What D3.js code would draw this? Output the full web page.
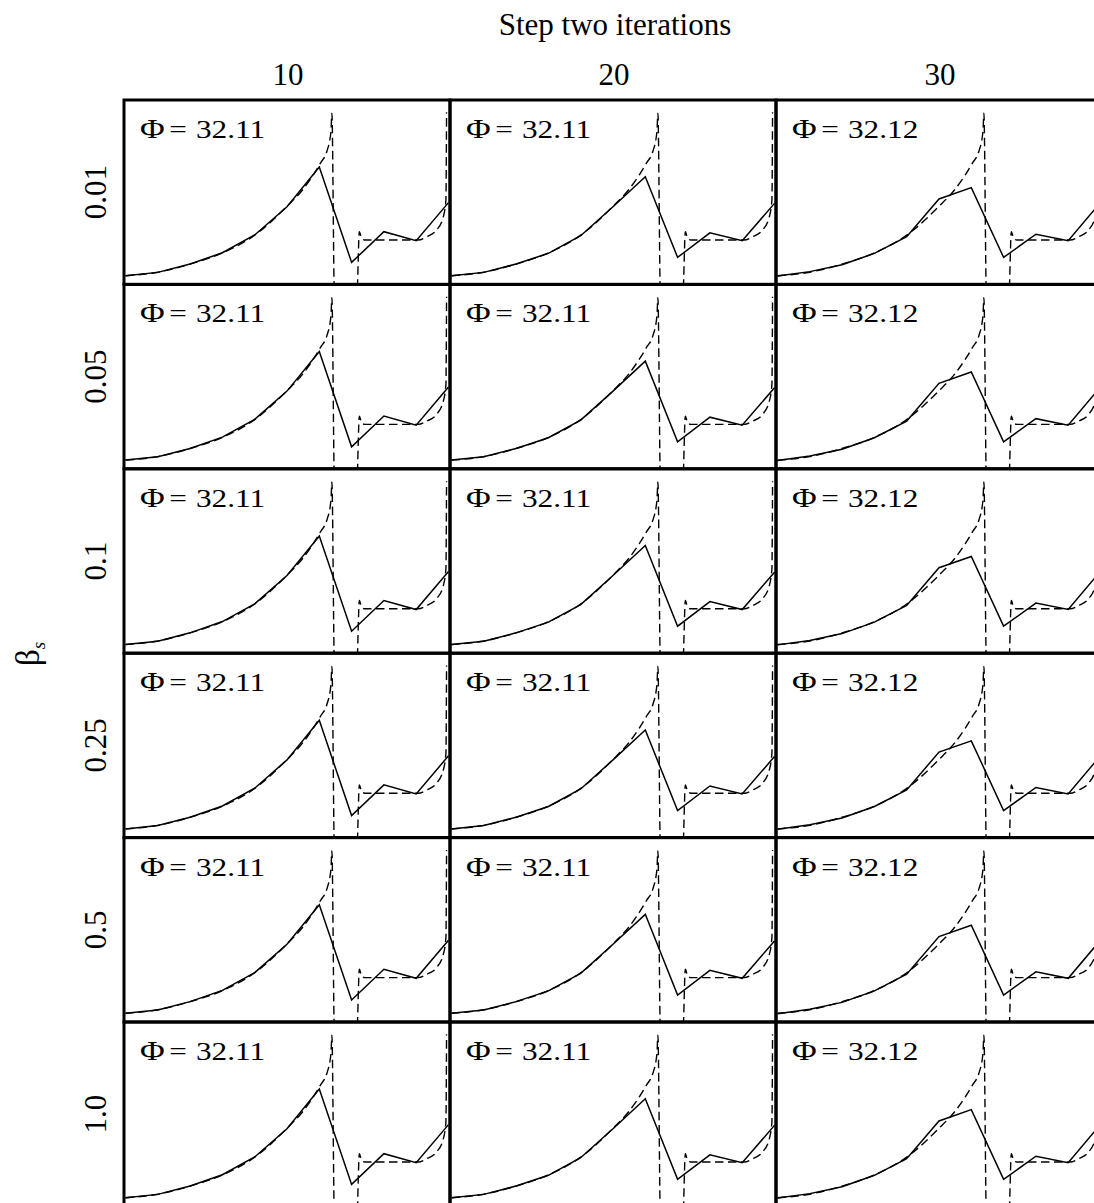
<!DOCTYPE html>
<html>
<head>
<meta charset="utf-8">
<script src="https://cdn.jsdelivr.net/npm/d3@7"></script>
<style>
  html, body { margin: 0; padding: 0; background: #fff; }
  svg { display: block; }
  text { font-family: "Liberation Serif", "Times New Roman", serif; fill: #000; }
</style>
</head>
<body>
<svg id="chart" width="1094" height="1203"></svg>
<script>
// ---- data ----
const titleText = "Step two iterations";
const yTitle = "β";
const yTitleSub = "s";
const colLabels = ["10", "20", "30"];
const rowLabels = ["0.01", "0.05", "0.1", "0.25", "0.5", "1.0"];
const phiValues = ["32.11", "32.11", "32.12"];

// approximation (solid) knots, one series per column
const knotX = [0, 1, 2, 3, 4, 5, 6, 7, 8, 9, 10];
const approx10 = [4.7, 6.5, 11.0, 17.1, 26.7, 42.0, 63.4, 11.9, 28.5, 23.6, 44.2];
const approx20 = [4.7, 6.5, 11.0, 16.8, 26.3, 42.0, 58.2, 14.6, 27.9, 23.6, 43.8];
const approx30 = [4.5, 6.9, 10.6, 16.8, 25.8, 46.2, 52.3, 14.6, 27.1, 23.6, 44.3];
const approxByCol = [approx10, approx20, approx30];

// true function (dashed)
const trueX = [0, 1, 2, 3, 4, 5, 5.5, 5.81, 6.05, 6.23, 6.36, 6.39, 6.47, 7.16, 7.24, 7.31, 7.41, 8.0, 8.5, 9.06, 9.33, 9.63, 9.84, 9.92, 9.94];
const trueY = [4.7, 6.6, 11.0, 17.0, 26.6, 42.2, 51.5, 59.1, 66.0, 71.7, 82.5, 92.5, -8, -8, 28.5, 24.9, 24.0, 24.0, 24.0, 24.0, 25.8, 29.4, 36.6, 45.6, 93];

// ---- layout ----
const gridLeft = 124, gridTop = 100;
const panelW = 326, panelH = 184.4;

const svg = d3.select("#chart");

const x = d3.scaleLinear().domain([0, 10]).range([1.5, 324.5]);
const y = d3.scaleLinear().domain([0, 100]).range([panelH, panelH - 185]);

const solidLine = d3.line().x((d, i) => x(knotX[i])).y(d => y(d));
const trueData = trueX.map((v, i) => [v, trueY[i]]);
const dashedLine = d3.line().x(d => x(d[0])).y(d => y(d[1])).curve(d3.curveMonotoneX);

const colScale = d3.scaleBand().domain(colLabels).range([gridLeft, gridLeft + panelW * 3]).padding(0);
const rowScale = d3.scaleBand().domain(rowLabels).range([gridTop, gridTop + panelH * 6]).padding(0);

// title
svg.append("text")
  .attr("x", 615).attr("y", 35)
  .attr("text-anchor", "middle")
  .attr("font-size", 31)
  .text(titleText);

// column labels
svg.selectAll("text.col").data(colLabels).enter().append("text")
  .attr("class", "col")
  .attr("x", d => colScale(d) + panelW / 2 + 1)
  .attr("y", 85)
  .attr("text-anchor", "middle")
  .attr("font-size", 31)
  .text(d => d);

// row labels
svg.selectAll("text.row").data(rowLabels).enter().append("text")
  .attr("class", "row")
  .attr("transform", d => `translate(106,${rowScale(d) + panelH / 2}) rotate(-90)`)
  .attr("text-anchor", "middle")
  .attr("font-size", 31)
  .text(d => d);

// y title
const yt = svg.append("text")
  .attr("transform", `translate(39,654) rotate(-90)`)
  .attr("text-anchor", "middle")
  .attr("font-size", 33);
yt.append("tspan").text(yTitle);
yt.append("tspan").attr("font-size", 19).attr("font-style", "italic").attr("dy", 6).text(yTitleSub);

// clip
svg.append("defs").append("clipPath").attr("id", "pclip")
  .append("rect").attr("x", 0).attr("y", 0).attr("width", panelW).attr("height", panelH);

// panels
rowLabels.forEach((r, ri) => {
  colLabels.forEach((c, ci) => {
    const g = svg.append("g")
      .attr("transform", `translate(${colScale(c)},${rowScale(r)})`);

    const inner = g.append("g").attr("clip-path", "url(#pclip)");
    inner.append("path")
      .attr("d", dashedLine(trueData))
      .attr("fill", "none")
      .attr("stroke", "#000")
      .attr("stroke-width", 1.4)
      .attr("stroke-dasharray", "8.5,4.5");
    inner.append("path")
      .attr("d", solidLine(approxByCol[ci]))
      .attr("fill", "none")
      .attr("stroke", "#000")
      .attr("stroke-width", 1.5);

    const lab = g.append("g").attr("transform", "translate(16,38) scale(1.25,1)");
    lab.append("text").attr("x", 0).attr("font-size", 27).text("Φ");
    lab.append("text").attr("x", 23.4).attr("font-size", 25).text("=");
    lab.append("text").attr("x", 44.8).attr("font-size", 25).text(phiValues[ci]);

    g.append("rect")
      .attr("x", 0).attr("y", 0)
      .attr("width", panelW).attr("height", panelH)
      .attr("fill", "none")
      .attr("stroke", "#000")
      .attr("stroke-width", 3);
  });
});
</script>
</body>
</html>
